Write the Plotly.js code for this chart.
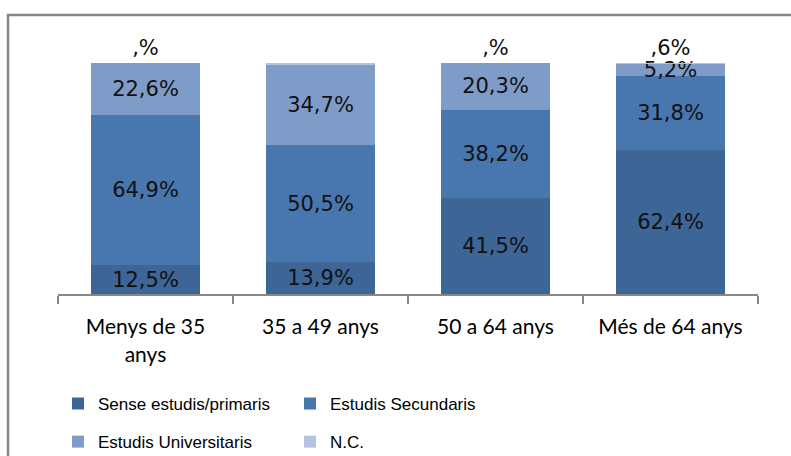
<!DOCTYPE html>
<html>
<head>
<meta charset="utf-8">
<script src="https://cdn.plot.ly/plotly-3.0.1.min.js"></script>
<style>
  html, body { margin: 0; padding: 0; background: #fff; }
  #chart { width: 791px; height: 456px; }
</style>
</head>
<body>
<div id="chart"></div>
<script>
// Nivell d'estudis per grup d'edat (% de cada grup)
const categories = ['Menys de 35<br>anys', '35 a 49 anys', '50 a 64 anys', 'Més de 64 anys'];
const senseEstudis = [12.5, 13.9, 41.5, 62.4];
const secundaris   = [64.9, 50.5, 38.2, 31.8];
const universitaris = [22.6, 34.7, 20.3, 5.2];
const nc           = [0.0, 0.9, 0.0, 0.6];

const seriesNames = ['Sense estudis/primaris', 'Estudis Secundaris', 'Estudis Universitaris', 'N.C.'];
const seriesColors = ['#3d6596', '#4877b0', '#7f9bc8', '#b4c4de'];

// "12,5%" style labels
function pct(v) {
  return v.toFixed(1).replace('.', ',') + '%';
}
// short "#,#%" style: drops leading and trailing zeros (",9%", ",%")
function pctShort(v) {
  const parts = v.toFixed(1).split('.');
  const ip = parts[0] === '0' ? '' : parts[0];
  const dp = parts[1] === '0' ? '' : parts[1];
  return ip + ',' + dp + '%';
}

const labelFont = { family: 'DejaVu Sans, Verdana, sans-serif', size: 21, color: '#111111' };

function barTrace(values, idx, legendId, position, formatter) {
  return {
    type: 'bar',
    name: seriesNames[idx],
    x: categories,
    y: values,
    text: values.map(formatter),
    textposition: position,
    textangle: 0,
    constraintext: 'none',
    insidetextanchor: 'middle',
    textfont: labelFont,
    insidetextfont: labelFont,
    outsidetextfont: labelFont,
    cliponaxis: false,
    marker: { color: seriesColors[idx], line: { width: 0 } },
    legend: legendId,
    hoverinfo: 'skip'
  };
}

const data = [
  barTrace(senseEstudis, 0, 'legend', 'inside', pct),
  barTrace(secundaris, 1, 'legend', 'inside', pct),
  barTrace(universitaris, 2, 'legend2', 'inside', pct),
  barTrace(nc, 3, 'legend2', 'outside', pctShort)
];

const legendFont = { family: 'Liberation Sans, Arial, sans-serif', size: 17, color: '#000000' };

// one legend per row, two entries each
function legendRow(y) {
  return {
    orientation: 'h',
    x: 0.0, xanchor: 'left',
    y: y, yanchor: 'middle',
    entrywidth: 187, entrywidthmode: 'pixels',
    itemwidth: 30,
    font: legendFont,
    bgcolor: 'rgba(0,0,0,0)',
    traceorder: 'normal'
  };
}

const layout = {
  width: 791,
  height: 456,
  margin: { l: 58, r: 33, t: 63, b: 162, pad: 0, autoexpand: false },
  paper_bgcolor: '#ffffff',
  plot_bgcolor: '#ffffff',
  barmode: 'stack',
  bargap: 0.377,
  showlegend: true,
  xaxis: {
    type: 'category',
    showline: true,
    linecolor: '#868686',
    linewidth: 2,
    ticks: 'outside',
    tickson: 'boundaries',
    ticklen: 8,
    tickwidth: 2,
    tickcolor: '#868686',
    ticklabelstandoff: 13,
    showgrid: false,
    zeroline: false,
    automargin: false,
    tickfont: { family: 'Lato, Open Sans, sans-serif', size: 21, color: '#000000' },
    fixedrange: true
  },
  yaxis: {
    range: [0, 100],
    visible: false,
    showgrid: false,
    zeroline: false,
    fixedrange: true
  },
  legend: legendRow(-0.476),
  legend2: legendRow(-0.641),
  shapes: [
    {
      type: 'rect', xref: 'paper', yref: 'paper',
      x0: -0.0714, x1: 1.2, y0: -1.2, y1: 1.2078,
      line: { color: '#878787', width: 2.5 },
      fillcolor: 'rgba(0,0,0,0)',
      layer: 'above'
    }
  ]
};

Plotly.newPlot('chart', data, layout, { displayModeBar: false, staticPlot: true });
</script>
</body>
</html>
